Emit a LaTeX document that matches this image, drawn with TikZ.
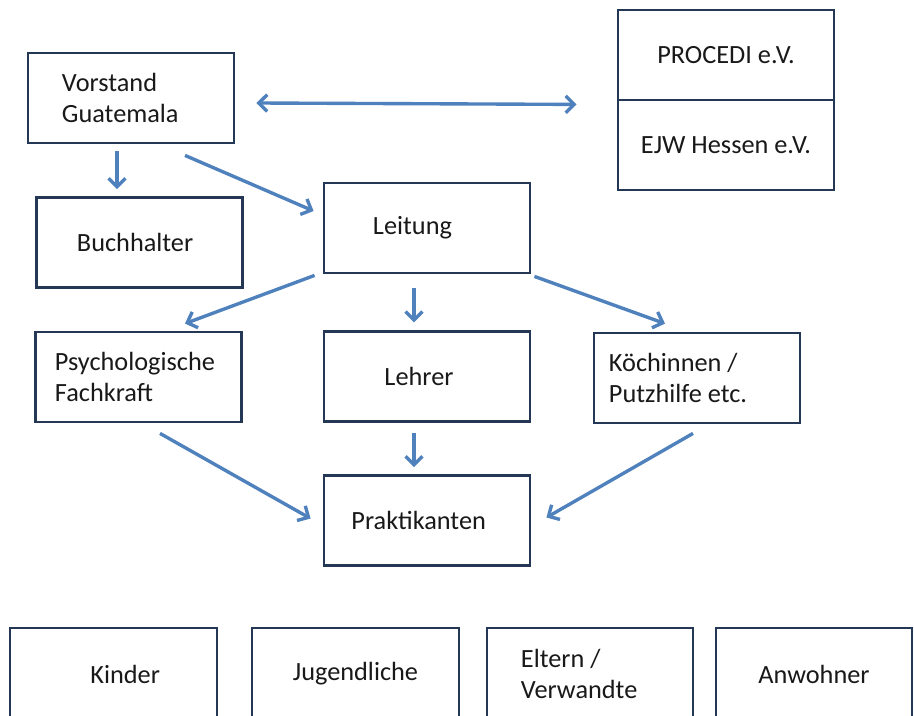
\documentclass[tikz,border=0pt]{standalone}
\usepackage{fontspec}
\setmainfont{Carlito}
\usetikzlibrary{positioning,arrows.meta}
\definecolor{boxline}{RGB}{36,56,86}
\definecolor{arrowblue}{RGB}{79,129,189}
\tikzset{box/.style={draw=boxline,line width=2pt,fill=white,minimum width=5.15cm,minimum height=2.25cm,
            align=flush left,text=black!90,font=\fontsize{18.7}{22}\selectfont},
         arr/.style={draw=arrowblue,line width=2.4pt,->},
            }

\begin{document}
\begin{tikzpicture}[x=0.025cm,y=-0.025cm,>={Straight Barb[length=6pt,width=12pt]}]
    \clip (0,0) rectangle (914,716);
    \fill[white] (0,0) rectangle (914,716);

    \node[box,text width=3.45cm] (vorstand) at (131,98) {Vorstand\\Guatemala};
    \node[box,text width=3.125cm] (buchhalter) at (139.5,242.5) {Buchhalter};
    \node[box,text width=2.7cm] (leitung) at (427,228) {Leitung};
    \node[box,minimum width=5.4cm] (procedi) at (726,55) {PROCEDI e.V.};
    \node[box,minimum width=5.4cm] (ejw) at (726,145) {EJW Hessen e.V.};
    \node[box,text width=4.175cm] (psych) at (138.5,377) {Psychologische\\Fachkraft};
    \node[box,text width=2.125cm] (lehrer) [below = 1.4cm of leitung] {Lehrer};
    \node[box,text width=4.4cm] (koechin) at (697,378) {Köchinnen /\\Putzhilfe etc.};
    \node[box,text width=3.775cm] (praktikanten) [below = 1.27cm of lehrer] {Praktikanten};

    \node[box,minimum width=5.175cm,minimum height=2.3cm,text width=2.325cm,align=flush right] (kinder) at (113.5,674) {Kinder};
    \node[box,minimum width=5.175cm,minimum height=2.3cm] (jugend) at (355.5,674) {Jugendliche};
    \node[box,minimum width=5.15cm,minimum height=2.3cm,text width=3.45cm] (eltern) at (590,674) {Eltern /\\Verwandte};
    \node[box,minimum width=4.9cm,minimum height=2.3cm] (anwohner) at (814,674) {Anwohner};

    \path[every edge/.style={arr}]
    ([shift={(21,5)}]vorstand.east) edge[<->] ([shift={(-40,3)}]procedi.south west)
    ([shift={(-14,7)}]vorstand.south) edge ([shift={(-22.5,-7)}]buchhalter.north)
    ([shift={(54,11)}]vorstand.south) edge ([shift={(-9,-17)}]leitung.west)
    ([shift={(-8,1)}]leitung.south west) edge ([shift={(46.5,-7)}]psych.north)
    ([shift={(-13,14)}]leitung.south) edge ([shift={(-13,-8)}]lehrer.north)
    ([shift={(3,2)}]leitung.south east) edge ([shift={(-32,-8)}]koechin.north)
    ([shift={(21.5,10)}]psych.south) edge ([shift={(-12,-2)}]praktikanten.west)
    ([shift={(-13,10)}]lehrer.south) edge ([shift={(-13,-7)}]praktikanten.north)
    ([shift={(-4,9)}]koechin.south) edge ([shift={(15,-3)}]praktikanten.east);
\end{tikzpicture}
\end{document}
